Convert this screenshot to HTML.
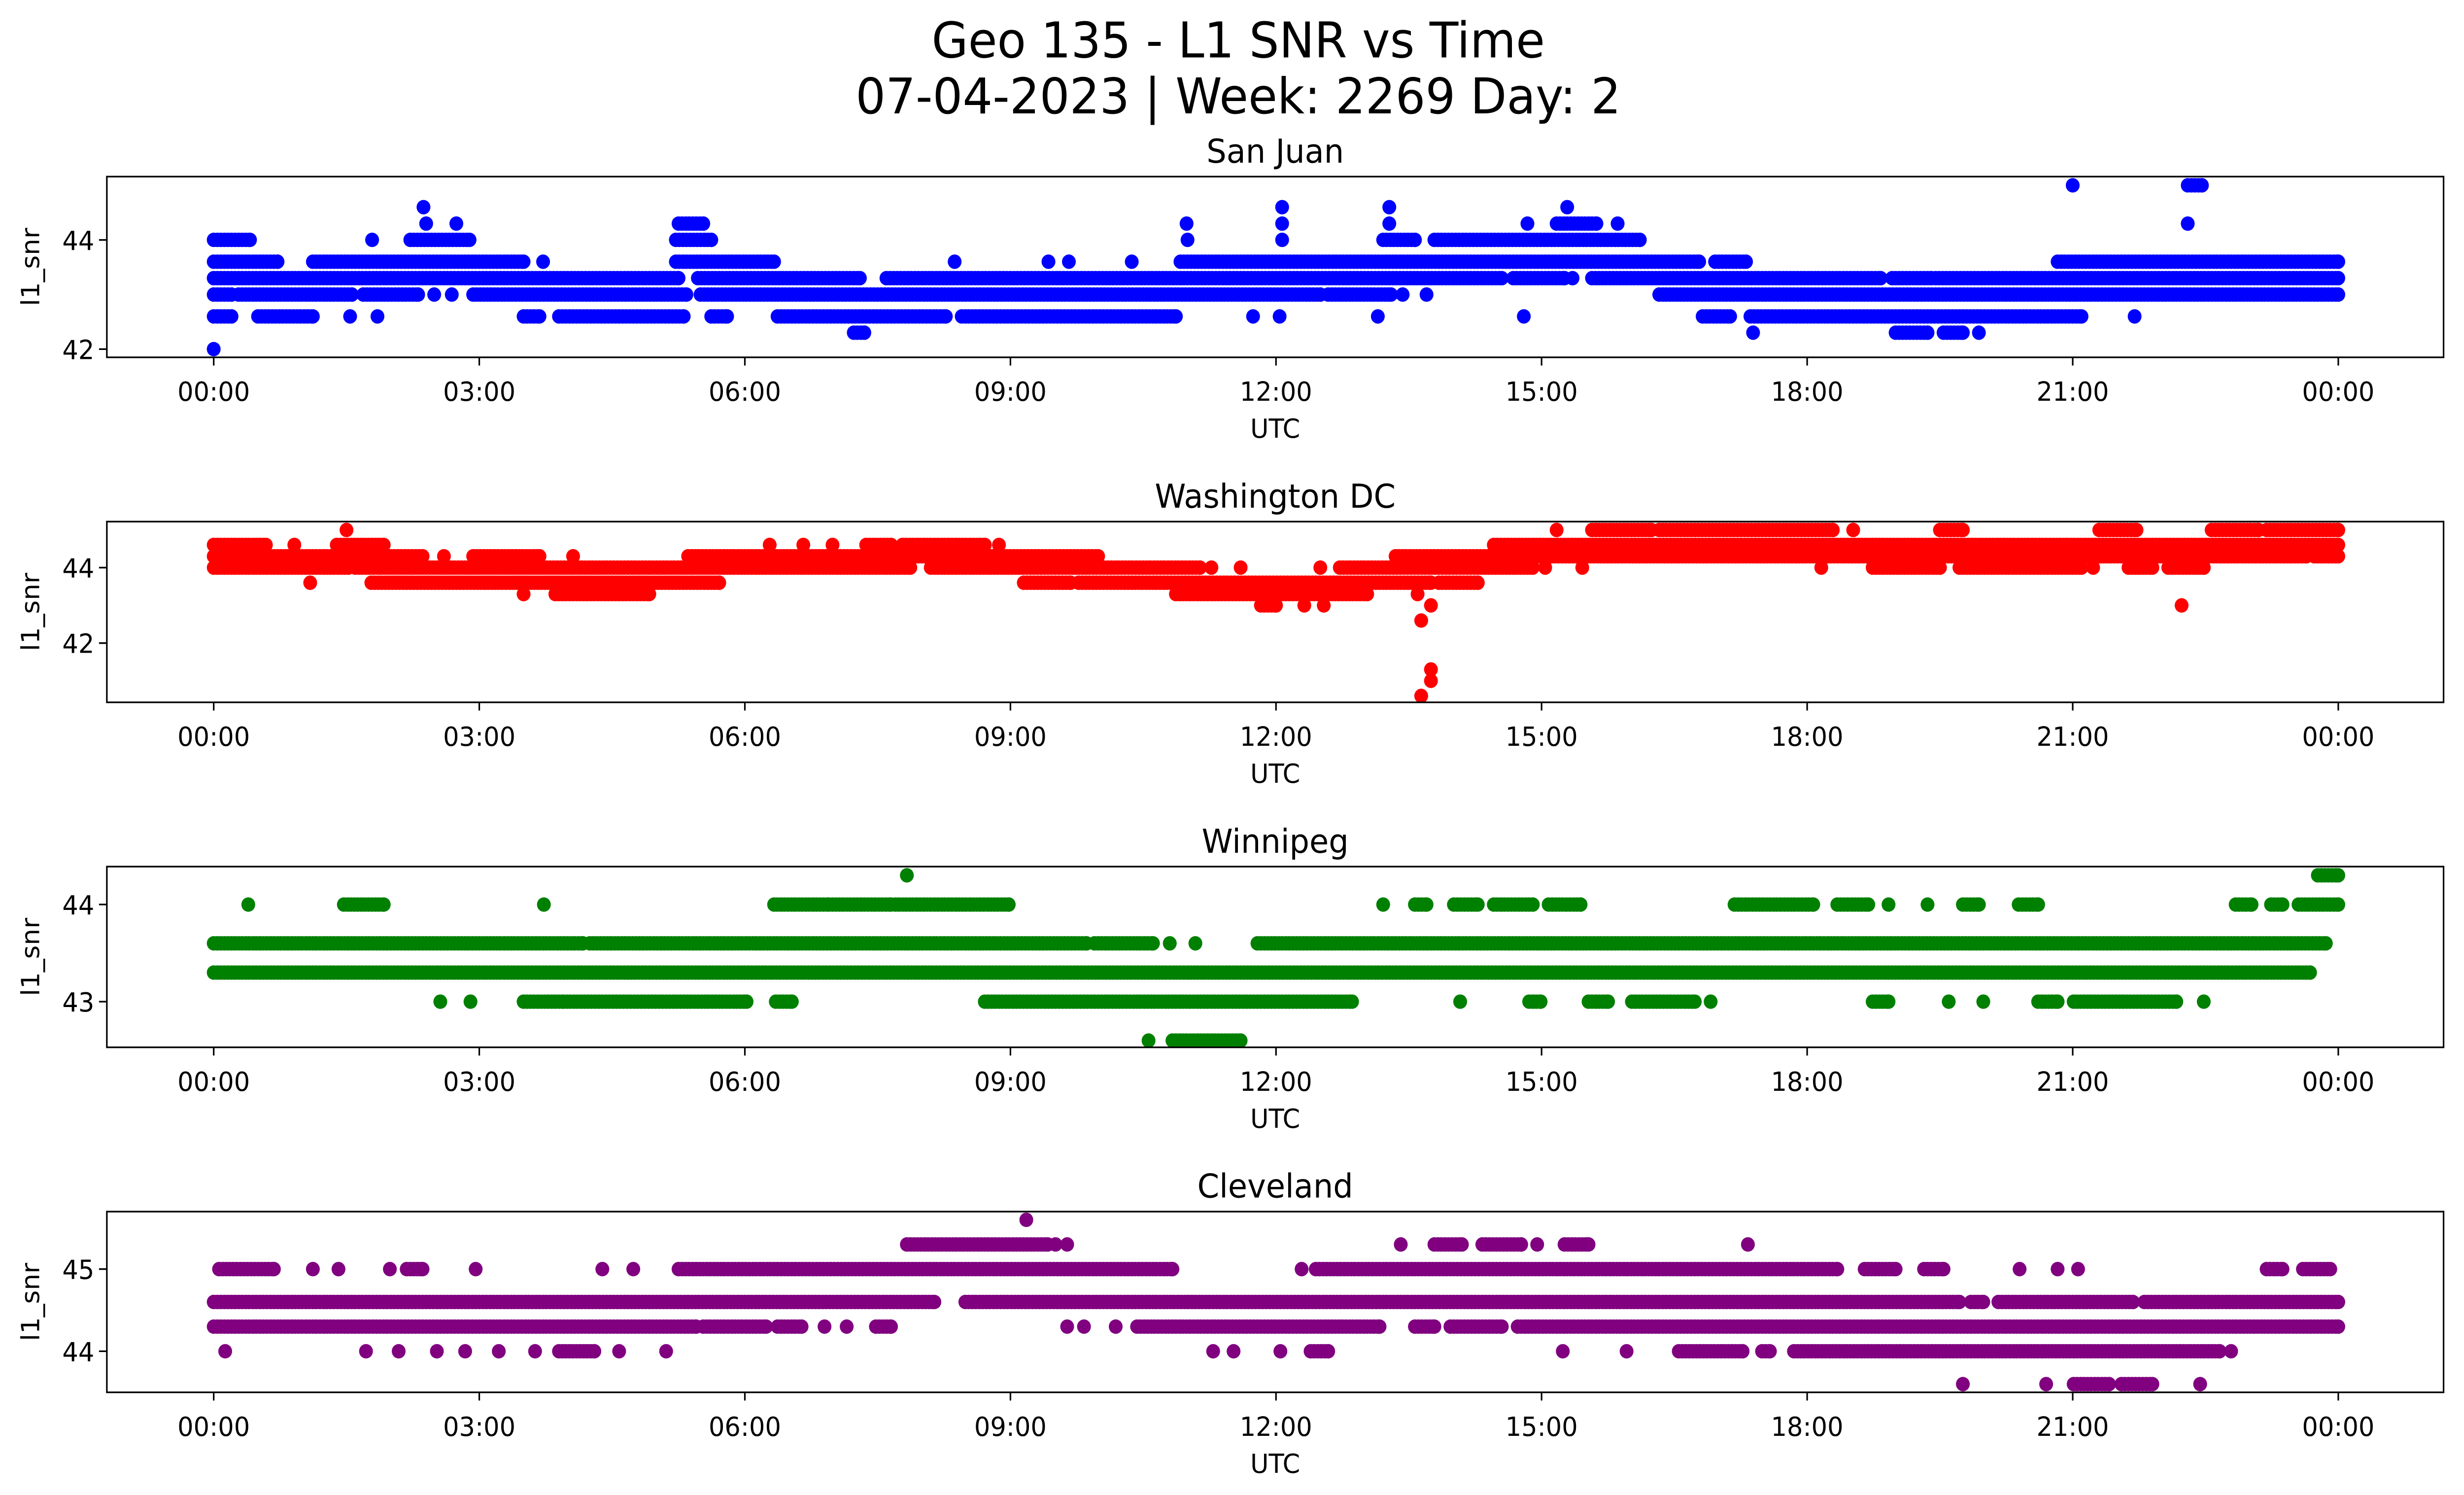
<!DOCTYPE html>
<html><head><meta charset="utf-8"><style>
html,body{margin:0;padding:0;background:#fff;overflow:hidden;width:100%;height:100%;}
svg{display:block;width:100vw;height:100vh;font-family:"DejaVu Sans","Liberation Sans",sans-serif;}
</style></head><body>
<svg id="chart" xmlns="http://www.w3.org/2000/svg" viewBox="0 0 1568 910" preserveAspectRatio="none">
<rect width="1568" height="910" fill="#fff"/>
<text x="788" y="35" font-size="30" text-anchor="middle" fill="#000">Geo 135 - L1 SNR vs Time</text>
<text x="788" y="69" font-size="30" text-anchor="middle" fill="#000">07-04-2023 | Week: 2269 Day: 2</text>
<g id="panels"></g>
</svg>
<script>
// x tick labels (hours)
const xTickHours = [0, 3, 6, 9, 12, 15, 18, 21, 24];
const xTickLabels = ["00:00","03:00","06:00","09:00","12:00","15:00","18:00","21:00","00:00"];
const stationNames = ["San Juan", "Washington DC", "Winnipeg", "Cleveland"];
const stationColors = ["#0000ff", "#ff0000", "#008000", "#800080"];
const yTicksSJ = [42, 44];
const yTicksDC = [42, 44];
const yTicksWP = [43, 44];
const yTicksCL = [44, 45];
const yDomainSJ = [41.85, 45.16];
const yDomainDC = [40.43, 45.22];
const yDomainWP = [42.53, 44.39];
const yDomainCL = [43.5, 45.7];
// runs: [l1_snr, startHour, endHour]
const runsSJ = [[42.0,0,0],
[42.3,7.23,7.35],[42.3,17.39,17.39],[42.3,19.0,19.36],[42.3,19.54,19.76],[42.3,19.94,19.94],
[42.6,0,0.2],[42.6,0.5,1.12],[42.6,1.54,1.54],[42.6,1.85,1.85],[42.6,3.5,3.68],[42.6,3.9,5.31],[42.6,5.62,5.8],[42.6,6.37,8.27],[42.6,8.45,10.87],[42.6,11.74,11.74],[42.6,12.04,12.04],[42.6,13.15,13.15],[42.6,14.8,14.8],[42.6,16.82,17.13],[42.6,17.36,21.1],[42.6,21.7,21.7],
[43.0,0,0.2],[43.0,0.28,1.56],[43.0,1.69,2.31],[43.0,2.49,2.49],[43.0,2.69,2.69],[43.0,2.93,5.34],[43.0,5.5,12.5],[43.0,12.59,13.3],[43.0,13.43,13.43],[43.0,13.7,13.7],[43.0,16.33,24],
[43.3,0,5.25],[43.3,5.47,7.3],[43.3,7.6,14.55],[43.3,14.68,15.26],[43.3,15.35,15.35],[43.3,15.57,18.83],[43.3,18.96,19.4],[43.3,19.45,24],
[43.6,0,0.72],[43.6,1.12,3.5],[43.6,3.72,3.72],[43.6,5.22,6.33],[43.6,8.37,8.37],[43.6,9.43,9.43],[43.6,9.66,9.66],[43.6,10.37,10.37],[43.6,10.92,16.78],[43.6,16.96,17.31],[43.6,20.83,24],
[44.0,0,0.41],[44.0,1.79,1.79],[44.0,2.22,2.89],[44.0,5.22,5.62],[44.0,11.0,11.0],[44.0,12.07,12.07],[44.0,13.21,13.57],[44.0,13.79,16.11],
[44.3,2.4,2.4],[44.3,2.74,2.74],[44.3,5.25,5.53],[44.3,10.99,10.99],[44.3,12.07,12.07],[44.3,13.28,13.28],[44.3,14.84,14.84],[44.3,15.17,15.62],[44.3,15.86,15.86],[44.3,22.3,22.3],
[44.6,2.37,2.37],[44.6,12.07,12.07],[44.6,13.28,13.28],[44.6,15.29,15.29],
[45.0,21.0,21.0],[45.0,22.3,22.46]];
const runsDC = [[45.0,1.5,1.5],[45.0,15.17,15.17],[45.0,15.57,16.24],[45.0,16.33,18.29],[45.0,18.52,18.52],[45.0,19.5,19.76],[45.0,21.3,21.72],[45.0,22.57,23.1],[45.0,23.19,24],
[44.6,0,0.59],[44.6,0.91,0.91],[44.6,1.39,1.92],[44.6,6.28,6.28],[44.6,6.66,6.66],[44.6,6.99,6.99],[44.6,7.37,7.65],[44.6,7.78,8.71],[44.6,8.87,8.87],[44.6,14.46,24],
[44.3,0,2.36],[44.3,2.6,2.6],[44.3,2.93,3.68],[44.3,4.06,4.06],[44.3,5.36,9.99],[44.3,13.35,23.64],[44.3,23.73,24],
[44.0,0,1.52],[44.0,1.6,7.87],[44.0,8.1,11.14],[44.0,11.27,11.27],[44.0,11.6,11.6],[44.0,12.5,12.5],[44.0,12.72,14.9],[44.0,15.04,15.04],[44.0,15.46,15.46],[44.0,18.16,18.16],[44.0,18.74,19.5],[44.0,19.72,21.1],[44.0,21.23,21.23],[44.0,21.63,21.9],[44.0,22.08,22.48],
[43.6,1.09,1.09],[43.6,1.78,5.71],[43.6,9.15,9.68],[43.6,9.77,13.75],[43.6,13.84,14.28],
[43.3,3.5,3.5],[43.3,3.86,4.92],[43.3,10.87,13.03],[43.3,13.6,13.6],
[43.0,11.83,12.0],[43.0,12.32,12.32],[43.0,12.54,12.54],[43.0,13.75,13.75],[43.0,22.23,22.23],
[42.6,13.64,13.64],[41.3,13.75,13.75],[41.0,13.75,13.75],[40.6,13.64,13.64]];
const runsWP = [[44.3,7.83,7.83],[44.3,23.77,24],
[44.0,0.39,0.39],[44.0,1.47,1.92],[44.0,3.73,3.73],[44.0,6.33,6.95],[44.0,6.99,7.65],[44.0,7.7,8.98],[44.0,13.21,13.21],[44.0,13.57,13.7],[44.0,14.01,14.28],[44.0,14.46,14.9],[44.0,15.08,15.44],[44.0,17.18,18.07],[44.0,18.34,18.69],[44.0,18.92,18.92],[44.0,19.36,19.36],[44.0,19.76,19.94],[44.0,20.39,20.61],[44.0,22.84,23.02],[44.0,23.24,23.37],[44.0,23.55,24],
[43.6,0,4.17],[43.6,4.25,9.86],[43.6,9.95,10.61],[43.6,10.8,10.8],[43.6,11.09,11.09],[43.6,11.79,23.86],
[43.3,0,23.68],
[43.0,2.56,2.56],[43.0,2.9,2.9],[43.0,3.5,3.95],[43.0,3.99,6.02],[43.0,6.35,6.53],[43.0,8.71,12.86],[43.0,14.08,14.08],[43.0,14.86,14.99],[43.0,15.53,15.75],[43.0,16.02,16.73],[43.0,16.91,16.91],[43.0,18.74,18.92],[43.0,19.6,19.6],[43.0,19.99,19.99],[43.0,20.61,20.83],[43.0,21.01,22.17],[43.0,22.48,22.48],
[42.6,10.56,10.56],[42.6,10.83,11.6]];
const runsCL = [[45.6,9.18,9.18],
[45.3,7.83,9.42],[45.3,9.51,9.51],[45.3,9.64,9.64],[45.3,13.41,13.41],[45.3,13.79,14.1],[45.3,14.33,14.77],[45.3,14.95,14.95],[45.3,15.26,15.53],[45.3,17.33,17.33],
[45.0,0.06,0.68],[45.0,1.12,1.12],[45.0,1.41,1.41],[45.0,1.99,1.99],[45.0,2.18,2.36],[45.0,2.96,2.96],[45.0,4.39,4.39],[45.0,4.74,4.74],[45.0,5.25,10.83],[45.0,12.29,12.29],[45.0,12.45,18.34],[45.0,18.65,19.0],[45.0,19.32,19.54],[45.0,20.4,20.4],[45.0,20.83,20.83],[45.0,21.06,21.06],[45.0,23.19,23.37],[45.0,23.6,23.91],
[44.6,0,8.14],[44.6,8.49,19.72],[44.6,19.85,19.99],[44.6,20.16,21.68],[44.6,21.81,24],
[44.3,0,5.45],[44.3,5.53,6.24],[44.3,6.37,6.64],[44.3,6.9,6.9],[44.3,7.15,7.15],[44.3,7.48,7.65],[44.3,9.64,9.64],[44.3,9.83,9.83],[44.3,10.19,10.19],[44.3,10.43,13.17],[44.3,13.57,13.79],[44.3,13.97,14.55],[44.3,14.73,24],
[44.0,0.13,0.13],[44.0,1.72,1.72],[44.0,2.09,2.09],[44.0,2.52,2.52],[44.0,2.84,2.84],[44.0,3.22,3.22],[44.0,3.63,3.63],[44.0,3.9,4.3],[44.0,4.58,4.58],[44.0,5.11,5.11],[44.0,11.29,11.29],[44.0,11.52,11.52],[44.0,12.05,12.05],[44.0,12.39,12.59],[44.0,15.24,15.24],[44.0,15.96,15.96],[44.0,16.55,17.27],[44.0,17.49,17.58],[44.0,17.85,22.66],[44.0,22.79,22.79],
[43.6,19.76,19.76],[43.6,20.7,20.7],[43.6,21.01,21.41],[43.6,21.55,21.9],[43.6,22.44,22.44]];

const NS = "http://www.w3.org/2000/svg";
const root = document.getElementById("panels");
const AX_L = 68, AX_R = 1555, X0 = 136, X24 = 1488;
const panelTops = [107.5, 317.5, 527.5, 737.5];
const PH = 110;
const allRuns = [runsSJ, runsDC, runsWP, runsCL];
const allDomains = [yDomainSJ, yDomainDC, yDomainWP, yDomainCL];
const allYTicks = [yTicksSJ, yTicksDC, yTicksWP, yTicksCL];
const keys = ["san-juan", "washington-dc", "winnipeg", "cleveland"];
function xScale(h){ return X0 + (X24 - X0) * h / 24; }
function mk(tag, attrs, parent){ const e = document.createElementNS(NS, tag); for (const k in attrs) e.setAttribute(k, attrs[k]); parent.appendChild(e); return e; }

for (let p = 0; p < 4; p++) {
  const top = panelTops[p], bot = top + PH;
  const dom = allDomains[p];
  const yScale = v => bot - (v - dom[0]) / (dom[1] - dom[0]) * PH;
  const g = mk("g", {}, root);
  
  
  const title = mk("text", {x: (AX_L + AX_R) / 2, y: top - 8.5, "font-size": 20, "text-anchor": "middle"}, g);
  title.textContent = stationNames[p];
  
  
  const clipId = "clip" + p;
  const cp = mk("clipPath", {id: clipId}, g);
  mk("rect", {x: AX_L, y: top, width: AX_R - AX_L, height: PH}, cp);
  const pts = mk("g", {"clip-path": "url(#" + clipId + ")", fill: stationColors[p]}, g);
  
  
  for (const r of allRuns[p]) {
    const v = r[0], s = r[1], e = r[2];
    const y = yScale(v);
    for (let h = s; h <= e + 1e-9; h += 0.04) {
      const c = mk("circle", {cx: xScale(h).toFixed(1), cy: y.toFixed(1), r: 4.4}, pts);
      
      
    }
    if (e - s > 0.04) {
      const c = mk("circle", {cx: xScale(e).toFixed(1), cy: y.toFixed(1), r: 4.4}, pts);
      
      
    }
  }
  const frame = mk("rect", {x: AX_L, y: top, width: AX_R - AX_L, height: PH, fill: "none", stroke: "#000", "stroke-width": 1}, g);
  
  
  for (let i = 0; i < xTickHours.length; i++) {
    const x = xScale(xTickHours[i]);
    const t = mk("line", {x1: x, x2: x, y1: bot, y2: bot + 5, stroke: "#000", "stroke-width": 1}, g);
    
    
    const l = mk("text", {x: x, y: bot + 26.5, "font-size": 16, "text-anchor": "middle"}, g);
    l.textContent = xTickLabels[i];
    
    
  }
  const xl = mk("text", {x: (AX_L + AX_R) / 2, y: bot + 49, "font-size": 16, "text-anchor": "middle"}, g);
  xl.textContent = "UTC";
  
  
  for (const v of allYTicks[p]) {
    const y = yScale(v);
    const t = mk("line", {x1: AX_L - 5, x2: AX_L, y1: y, y2: y, stroke: "#000", "stroke-width": 1}, g);
    
    
    const l = mk("text", {x: AX_L - 8, y: y + 6, "font-size": 16, "text-anchor": "end"}, g);
    l.textContent = String(v);
    
    
  }
  const yl = mk("text", {x: 0, y: 0, "font-size": 16, "text-anchor": "middle", transform: "translate(25," + (top + PH / 2) + ") rotate(-90)"}, g);
  yl.textContent = "l1_snr";
  
  
}
</script>
</body></html>
